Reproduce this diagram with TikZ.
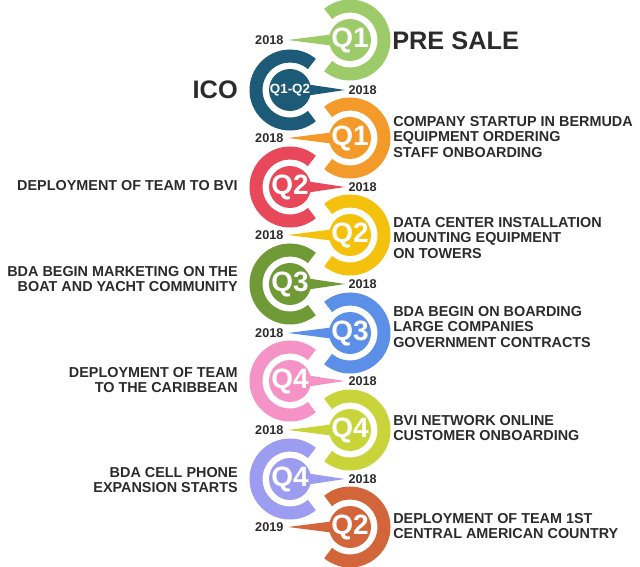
\documentclass[tikz,border=0pt]{standalone}
\usepackage{fontspec}
\setmainfont{Liberation Sans}
\definecolor{cGreen}{HTML}{9DCB6A}
\definecolor{cNavy}{HTML}{1D5A78}
\definecolor{cOrange}{HTML}{F39A2B}
\definecolor{cRed}{HTML}{E8485A}
\definecolor{cYellow}{HTML}{F4C20D}
\definecolor{cOlive}{HTML}{6F9A36}
\definecolor{cBlue}{HTML}{5B8FE8}
\definecolor{cPink}{HTML}{F593C6}
\definecolor{cLime}{HTML}{C8D43A}
\definecolor{cLav}{HTML}{9C9CF0}
\definecolor{cBrown}{HTML}{D2653A}
\definecolor{txt}{HTML}{2B2B2B}
\tikzset{
  year/.style={font=\bfseries\fontsize{9.5}{9.5}\selectfont,text=txt,inner sep=1pt},
  qlab/.style={font=\bfseries\fontsize{21}{21}\selectfont,text=white},
  desc/.style={font=\bfseries\fontsize{10.8}{11.4}\selectfont,text=txt,inner sep=0pt},
  big/.style={font=\bfseries\fontsize{19}{19}\selectfont,text=txt,inner sep=0pt}
}
\begin{document}
\begin{tikzpicture}[x=0.75pt,y=-0.75pt]
    \useasboundingbox (0,0) rectangle (640,567);
    % right rings, tail to the left
    \foreach \cy/\col/\q/\yr/\n in {40/cGreen/Q1/2018/a,138/cOrange/Q1/2018/c,235/cYellow/Q2/2018/e,333/cBlue/Q3/2018/g,430/cLime/Q4/2018/i,527/cBrown/Q2/2019/k}{
        \draw[\col,line width=9.75pt] (350,\cy) ++(130:34) arc (130:-130:34);
        \fill[\col] (335,\cy-6) -- (288,\cy) -- (335,\cy+6) -- cycle;
        \fill[\col] (350,\cy) circle (21);
        \node[qlab] (\n) at (350,\cy) {\q};
        \node[year,anchor=east] (y\n) at (285,\cy) {\yr};
    }
    % left rings, tail to the right
    \foreach \cy/\col/\q/\n in {187/cRed/Q2/d,284/cOlive/Q3/f,381/cPink/Q4/h,479/cLav/Q4/j}{
        \draw[\col,line width=9.75pt] (290,\cy) ++(50:34) arc (50:310:34);
        \fill[\col] (305,\cy-6) -- (345,\cy) -- (305,\cy+6) -- cycle;
        \fill[\col] (290,\cy) circle (21);
        \node[qlab] (\n) at (290,\cy) {\q};
        \node[year,anchor=west] (y\n) at (347,\cy) {2018};
    }
    \draw[cNavy,line width=9.75pt] (290,90) ++(50:34) arc (50:310:34);
    \fill[cNavy] (305,84) -- (345,90) -- (305,96) -- cycle;
    \fill[cNavy] (290,90) circle (21);
    \node[qlab,font=\bfseries\fontsize{10}{10}\selectfont] (b) at (290,90) {Q1-Q2};
    \node[year,anchor=west] (yb) at (347,90) {2018};
    % captions
    \node[big,anchor=west] (presale) at (392,41) {PRE SALE};
    \node[big,anchor=east] (ico) at (238,90) {ICO};
    \node[desc,anchor=west,align=left] (tc) at (393,137) {COMPANY STARTUP IN BERMUDA\\EQUIPMENT ORDERING\\STAFF ONBOARDING};
    \node[desc,anchor=east,align=right] (td) at (238,186) {DEPLOYMENT OF TEAM TO BVI};
    \node[desc,anchor=west,align=left] (te) at (393,238) {DATA CENTER INSTALLATION\\MOUNTING EQUIPMENT\\ON TOWERS};
    \node[desc,anchor=east,align=right] (tf) at (238,279) {BDA BEGIN MARKETING ON THE\\BOAT AND YACHT COMMUNITY};
    \node[desc,anchor=west,align=left] (tg) at (393,327) {BDA BEGIN ON BOARDING\\LARGE COMPANIES\\GOVERNMENT CONTRACTS};
    \node[desc,anchor=east,align=right] (th) at (238,380) {DEPLOYMENT OF TEAM\\TO THE CARIBBEAN};
    \node[desc,anchor=west,align=left] (ti) at (393,428) {BVI NETWORK ONLINE\\CUSTOMER ONBOARDING};
    \node[desc,anchor=east,align=right] (tj) at (238,480) {BDA CELL PHONE\\EXPANSION STARTS};
    \node[desc,anchor=west,align=left] (tk) at (393,526) {DEPLOYMENT OF TEAM 1ST\\CENTRAL AMERICAN COUNTRY};
\end{tikzpicture}
\end{document}
